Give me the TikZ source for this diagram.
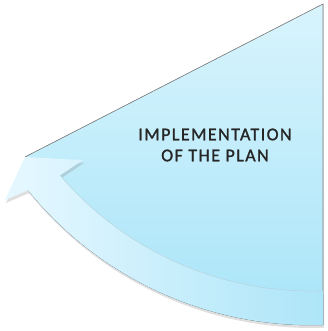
\documentclass[tikz,border=0pt]{standalone}
\usepackage{fontspec}
\setmainfont{Carlito}
\newfontfamily\planfont[LetterSpace=8,FakeBold=1.2]{Carlito}
\usetikzlibrary{shadows,calc}

\definecolor{wedgeTop}{HTML}{D8F4FD}
\definecolor{wedgeBottom}{HTML}{A8E4F8}
\definecolor{bowLeft}{HTML}{E6F8FF}
\definecolor{bowRight}{HTML}{ADE5F8}

\begin{document}
\begin{tikzpicture}[x=1pt,y=1pt,
        wedge/.style={top color=wedgeTop, bottom color=wedgeBottom},
        rim/.style={draw=black!50, line width=0.6pt},
        bow/.style={left color=bowLeft, right color=bowRight,
            drop shadow={opacity=0.25, shadow xshift=1pt, shadow yshift=-3pt}},
        plantext/.style={font=\planfont\fontsize{18}{21}\selectfont,
            text=black!85, align=center}
        ]
    \useasboundingbox (0,0) rectangle (327,331);

    % Eckpunkte
    \coordinate (tip)    at (25,174);
    \coordinate (top)    at (323,327);
    \coordinate (centre) at (311,370);
    \coordinate (barbIn) at (83,171);
    \coordinate (barbOut) at (5,131);

    % Keil
    \fill [wedge] (tip) -- (top) -- (323,6)
        arc [start angle=-88.1, end angle=-141, radius=364] -- cycle;
    \draw [rim] (tip) -- (top) -- (323,6);

    % Bogenpfeil
    \path [bow] (centre) ++(-87.9:330)
        arc [start angle=-87.9, end angle=-139.5, radius=330]
        -- (barbIn) -- (tip) -- (barbOut)
        -- ($(centre)+(-141:364)$)
        arc [start angle=-141, end angle=-88.1, radius=364] -- cycle;
    \draw [wedgeBottom!80!black!60, line width=0.5pt] (centre) ++(-87.9:330)
        arc [start angle=-87.9, end angle=-139.5, radius=330];

    % Text
    \node (plan) [plantext] at (215,186) {IMPLEMENTATION\\OF THE PLAN};
\end{tikzpicture}
\end{document}
